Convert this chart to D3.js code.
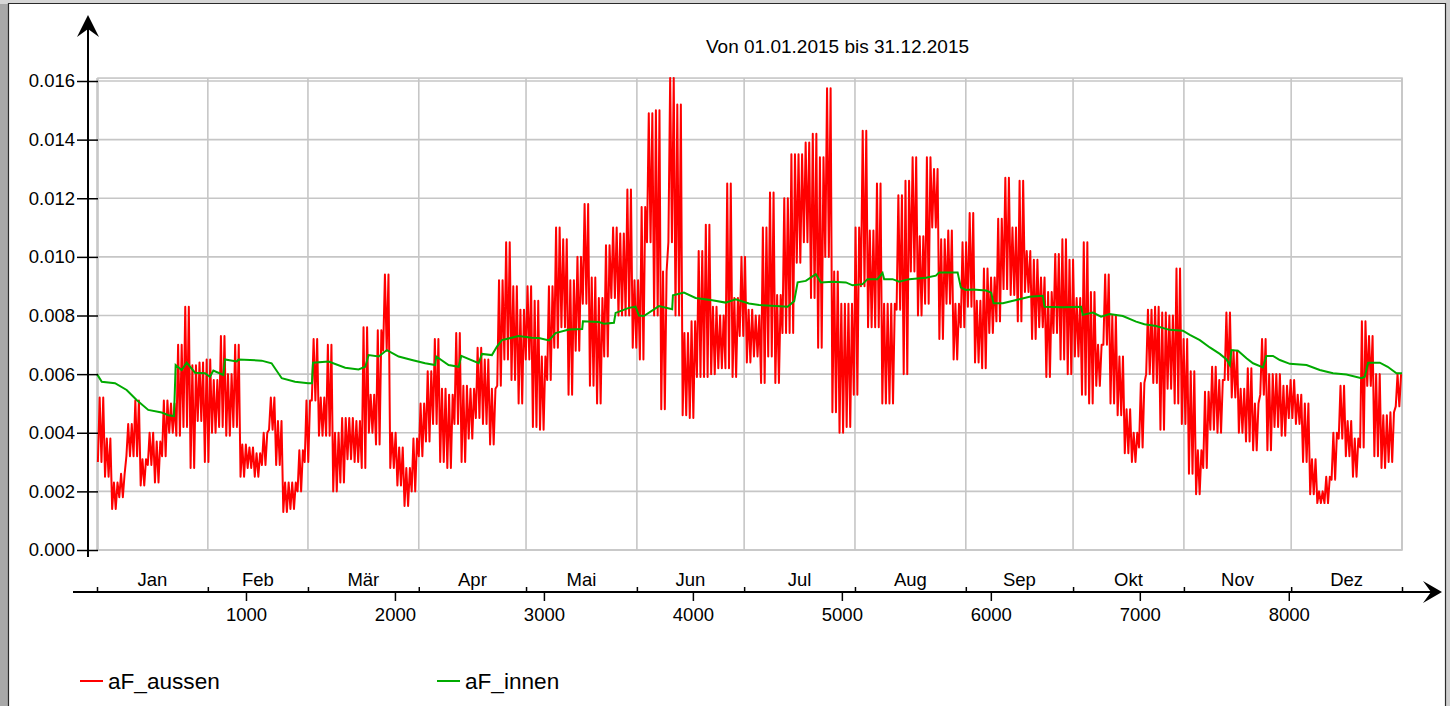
<!DOCTYPE html>
<html>
<head>
<meta charset="utf-8">
<script src="https://cdn.jsdelivr.net/npm/d3@7"></script>
<style>
  body { margin: 0; background: #fff; }
  text { font-family: "Liberation Sans", Arial, sans-serif; fill: #000; }
</style>
</head>
<body>
<svg id="chart" width="1450" height="706"></svg>
<script>
// values in units of 0.001 (kg/kg), hourly year 2015 (8760 h)
// aF_aussen: low / high of every ~48 h block
var aussenLo = [
  3.0, 2.5, 1.4, 1.8, 3.2, 3.2, 2.2, 2.9, 2.3, 3.2,
  4.0, 3.9, 4.2, 2.8, 4.4, 3.0, 4.0, 4.2, 3.9, 4.2,
  2.5, 2.8, 2.5, 2.9, 4.1, 2.9, 1.3, 1.4, 2.0, 3.0,
  5.1, 3.9, 3.9, 2.0, 2.3, 3.1, 3.0, 2.8, 4.0, 3.6,
  6.8, 2.8, 2.2, 1.5, 2.0, 3.2, 3.7, 4.3, 3.0, 2.8,
  4.3, 3.0, 3.8, 4.5, 4.3, 3.6, 5.6, 6.5, 5.8, 5.0,
  6.5, 4.2, 4.1, 5.8, 6.9, 7.6, 5.3, 6.8, 8.4, 5.6,
  5.0, 6.6, 8.6, 8.0, 8.0, 6.9, 6.5, 10.5, 8.0, 4.8,
  10.5, 8.0, 4.6, 4.5, 5.9, 5.9, 6.0, 6.2, 6.2, 5.9,
  7.3, 6.4, 6.6, 5.7, 6.6, 5.7, 7.4, 7.4, 9.8, 10.5,
  8.6, 6.9, 10.0, 4.7, 4.0, 4.2, 5.3, 9.0, 7.6, 7.6,
  5.0, 5.0, 8.2, 6.0, 9.5, 8.0, 8.4, 11.0, 7.2, 8.4,
  6.5, 7.6, 8.3, 6.4, 6.2, 7.4, 7.8, 8.9, 8.7, 7.8,
  8.8, 7.2, 7.6, 5.9, 7.4, 6.5, 6.0, 6.6, 5.3, 5.0,
  5.6, 7.0, 5.0, 4.6, 3.3, 3.0, 3.5, 6.0, 5.7, 4.1,
  5.5, 5.0, 4.3, 2.6, 1.9, 2.8, 4.1, 4.0, 5.8, 5.2,
  4.0, 3.7, 3.4, 5.3, 3.4, 4.2, 3.9, 4.5, 4.3, 3.0,
  1.9, 1.6, 1.6, 2.4, 3.8, 3.2, 2.5, 3.5, 5.6, 3.2,
  2.8, 3.0, 4.9
];
var aussenHi = [
  5.2, 3.8, 2.3, 2.6, 4.3, 5.1, 3.1, 4.0, 3.7, 5.1,
  5.0, 7.0, 8.3, 6.3, 6.4, 6.5, 5.8, 7.3, 6.0, 7.0,
  3.6, 3.5, 3.3, 4.0, 5.2, 4.4, 2.3, 2.3, 3.4, 5.1,
  7.2, 5.2, 7.0, 4.0, 4.5, 4.5, 4.4, 7.6, 5.3, 7.5,
  9.4, 4.0, 3.5, 2.8, 3.8, 5.0, 6.1, 7.2, 5.5, 5.3,
  7.4, 5.6, 5.5, 6.9, 6.5, 5.5, 9.2, 10.5, 9.0, 8.2,
  9.0, 8.5, 6.6, 9.0, 11.0, 10.6, 9.2, 10.0, 11.8, 9.3,
  8.6, 10.4, 11.0, 10.8, 12.3, 9.2, 11.7, 14.9, 15.0, 9.5,
  16.1, 15.2, 7.4, 7.8, 10.2, 11.1, 8.3, 8.0, 12.5, 8.6,
  10.0, 8.2, 8.0, 11.0, 12.2, 8.7, 12.0, 13.5, 13.5, 13.9,
  14.2, 13.4, 15.75, 9.5, 8.4, 8.4, 11.0, 14.3, 10.9, 12.5,
  8.4, 8.4, 12.1, 12.6, 13.4, 10.7, 13.4, 13.0, 10.6, 10.9,
  8.4, 10.5, 11.5, 8.5, 9.6, 9.3, 11.3, 12.7, 11.0, 12.6,
  10.2, 9.9, 9.3, 8.8, 10.1, 10.6, 9.9, 8.6, 10.5, 8.8,
  7.0, 9.4, 8.0, 6.6, 4.8, 4.0, 5.7, 8.2, 8.3, 8.1,
  8.0, 9.6, 7.2, 6.1, 3.4, 5.4, 6.25, 5.8, 8.1, 6.8,
  5.5, 6.2, 5.0, 7.2, 6.0, 6.0, 5.6, 5.8, 5.3, 5.0,
  3.1, 2.0, 2.5, 4.0, 5.6, 4.4, 3.8, 7.8, 7.3, 6.0,
  4.6, 4.7, 6.0
];

// aF_innen: hour / value pairs
var innenHours = [
  0, 32, 121, 199, 266, 344, 434, 479, 517, 528, 568, 602, 658, 725, 758, 781, 848, 859,
  938, 950, 1105, 1172, 1240, 1329, 1418, 1443, 1450, 1555, 1666, 1756, 1801, 1823, 1891,
  1946, 2025, 2114, 2203, 2270, 2277, 2360, 2428, 2445, 2562, 2584, 2651, 2685, 2718, 2830,
  2919, 2966, 3034, 3078, 3168, 3257, 3262, 3369, 3403, 3470, 3481, 3570, 3615, 3638, 3671,
  3772, 3861, 3866, 3940, 4018, 4130, 4219, 4287, 4376, 4445, 4557, 4636, 4680, 4703, 4758,
  4825, 4859, 4938, 5027, 5072, 5139, 5172, 5239, 5273, 5284, 5340, 5385, 5452, 5564, 5631,
  5653, 5777, 5799, 5832, 5879, 5968, 6002, 6018, 6081, 6170, 6260, 6349, 6360, 6483, 6606,
  6617, 6685, 6740, 6797, 6886, 6975, 7031, 7109, 7199, 7289, 7336, 7403, 7470, 7537, 7582,
  7604, 7615, 7659, 7716, 7760, 7827, 7850, 7894, 7940, 8007, 8119, 8208, 8297, 8387, 8488,
  8510, 8532, 8611, 8664, 8723, 8760
];
var innenVals = [
  6.0, 5.74, 5.69, 5.46, 5.12, 4.78, 4.69, 4.6, 4.57, 6.31, 6.14, 6.39, 6.05, 6.03, 5.91, 6.12, 5.97, 6.5,
  6.43, 6.5, 6.46, 6.37, 5.86, 5.74, 5.69, 5.69, 6.39, 6.43, 6.22, 6.16, 6.25, 6.65, 6.6,
  6.82, 6.6, 6.48, 6.37, 6.31, 6.6, 6.31, 6.25, 6.62, 6.37, 6.69, 6.65, 6.94, 7.16, 7.3,
  7.24, 7.23, 7.15, 7.4, 7.52, 7.54, 7.8, 7.78, 7.72, 7.75, 8.09, 8.26, 8.3, 8.0, 7.98,
  8.32, 8.21, 8.69, 8.78, 8.6, 8.52, 8.44, 8.55, 8.41, 8.36, 8.32, 8.3, 8.49, 9.13, 9.18,
  9.41, 9.13, 9.15, 9.13, 9.03, 9.07, 9.24, 9.24, 9.45, 9.24, 9.24, 9.15, 9.24, 9.29, 9.36,
  9.47, 9.47, 8.95, 8.87, 8.89, 8.85, 8.78, 8.42, 8.42, 8.53, 8.64, 8.67, 8.3, 8.28, 8.3,
  8.02, 8.1, 7.96, 8.05, 7.98, 7.79, 7.7, 7.64, 7.51, 7.48, 7.34, 7.16, 6.91, 6.69, 6.5,
  6.31, 6.82, 6.8, 6.54, 6.37, 6.23, 6.62, 6.62, 6.48, 6.35, 6.31, 6.14, 6.03, 5.99, 5.86,
  5.91, 6.39, 6.39, 6.25, 6.03, 6.03
];

var monthNames = ["Jan", "Feb", "Mär", "Apr", "Mai", "Jun", "Jul", "Aug", "Sep", "Okt", "Nov", "Dez"];
var monthDays = [31, 28, 31, 30, 31, 30, 31, 31, 30, 31, 30, 31];
var hourTicks = [1000, 2000, 3000, 4000, 5000, 6000, 7000, 8000];
var yTicks = [0, 0.002, 0.004, 0.006, 0.008, 0.010, 0.012, 0.014, 0.016];

var svg = d3.select("#chart");

// window chrome
svg.append("rect").attr("width", 1450).attr("height", 706).attr("fill", "#a8a8a8");
svg.append("rect").attr("width", 1450).attr("height", 4).attr("fill", "#d6d6d6");
svg.append("rect").attr("x", 1446).attr("width", 4).attr("height", 706).attr("fill", "#cfcfcf");
svg.append("rect").attr("x", 8).attr("y", 4).attr("width", 1437).attr("height", 702).attr("fill", "#fff");
svg.append("path").attr("d", "M8.5,706V3.5H1445.5V706").attr("fill", "none").attr("stroke", "#2a2a2a").attr("stroke-width", 1.2);

var x = d3.scaleLinear().domain([0, 8760]).range([97, 1402]);
var y = d3.scaleLinear().domain([0, 0.016]).range([550, 81]);

var monthEdges = [0];
monthDays.forEach(function(d, i) { monthEdges.push(monthEdges[i] + d * 24); });

var g = svg.append("g");

// grid
g.selectAll(".hgrid")
    .data(yTicks)
    .enter().append("line")
      .attr("x1", x(0)).attr("x2", x(8760))
      .attr("y1", function(d) { return y(d); })
      .attr("y2", function(d) { return y(d); })
      .attr("stroke", "#c6c6c6").attr("stroke-width", 1.6);

g.selectAll(".vgrid")
    .data(monthEdges)
    .enter().append("line")
      .attr("x1", function(d) { return x(d); })
      .attr("x2", function(d) { return x(d); })
      .attr("y1", y(0.0161)).attr("y2", y(0))
      .attr("stroke", "#c6c6c6").attr("stroke-width", 1.6);

g.append("rect")
    .attr("x", x(0) + 1).attr("y", y(0.0161))
    .attr("width", x(8760) - x(0) - 1).attr("height", y(0) - y(0.0161))
    .attr("fill", "none").attr("stroke", "#c6c6c6").attr("stroke-width", 1.6);

// series: each ~48 h block swings between its low and high once per day
var step = 8760 / aussenLo.length;
var aussen = [];
aussenLo.forEach(function(v, i) {
  aussen.push({h: step * (i + 0.125), v: v / 1000});
  aussen.push({h: step * (i + 0.375), v: aussenHi[i] / 1000});
  aussen.push({h: step * (i + 0.625), v: v / 1000});
  aussen.push({h: step * (i + 0.875), v: aussenHi[i] / 1000});
});
var innen = innenHours.map(function(h, i) { return {h: h, v: innenVals[i] / 1000}; });

var line = d3.line()
    .x(function(d) { return x(d.h); })
    .y(function(d) { return y(d.v); });

g.append("path")
    .datum(aussen)
    .attr("fill", "none")
    .attr("stroke", "#ff0000")
    .attr("stroke-width", 2)
    .attr("stroke-linejoin", "round")
    .attr("d", line);

g.append("path")
    .datum(innen)
    .attr("fill", "none")
    .attr("stroke", "#00aa00")
    .attr("stroke-width", 2)
    .attr("d", line);

// y axis
var yAxis = g.append("g")
    .attr("transform", "translate(98,0)")
    .call(d3.axisLeft(y).tickValues(yTicks).tickFormat(d3.format(".3f")).tickSize(21).tickPadding(2));
yAxis.select(".domain").remove();
yAxis.selectAll("line").attr("stroke", "#000").attr("stroke-width", 1.5);
yAxis.selectAll("text").style("font-size", "18.5px").attr("fill", "#000");

g.append("line")
    .attr("x1", 88).attr("x2", 88).attr("y1", 22).attr("y2", 557)
    .attr("stroke", "#000").attr("stroke-width", 2);
g.append("path")
    .attr("d", "M88,15L99,37L88,29L77,37Z")
    .attr("fill", "#000");

// x axis
var axisY = 592;
g.append("line")
    .attr("x1", 73).attr("x2", 1436).attr("y1", axisY).attr("y2", axisY)
    .attr("stroke", "#000").attr("stroke-width", 2);
g.append("path")
    .attr("d", "M1442," + axisY + "L1423," + (axisY - 11) + "L1431," + axisY + "L1423," + (axisY + 11) + "Z")
    .attr("fill", "#000");

var xAxis = g.append("g")
    .attr("transform", "translate(0," + axisY + ")")
    .call(d3.axisBottom(x).tickValues(hourTicks).tickFormat(d3.format("d")).tickSize(9).tickPadding(7));
xAxis.select(".domain").remove();
xAxis.selectAll("line").attr("stroke", "#000").attr("stroke-width", 1.5);
xAxis.selectAll("text").style("font-size", "18.5px").attr("fill", "#000");

var mAxis = g.append("g")
    .attr("transform", "translate(0," + axisY + ")")
    .call(d3.axisTop(x).tickValues(monthEdges).tickFormat("").tickSize(5));
mAxis.select(".domain").remove();
mAxis.selectAll("line").attr("stroke", "#000").attr("stroke-width", 1.5);

g.selectAll(".month")
    .data(monthNames)
    .enter().append("text")
      .attr("x", function(d, i) { return x((monthEdges[i] + monthEdges[i + 1]) / 2); })
      .attr("y", 586)
      .attr("text-anchor", "middle")
      .style("font-size", "18.5px")
      .text(function(d) { return d; });

// title
svg.append("text")
    .attr("x", 706).attr("y", 53)
    .style("font-size", "19px")
    .text("Von 01.01.2015 bis 31.12.2015");

// legend
var legend = svg.selectAll(".legend")
    .data([{name: "aF_aussen", color: "#ff0000", x: 80}, {name: "aF_innen", color: "#00aa00", x: 437}])
    .enter().append("g")
      .attr("transform", function(d) { return "translate(" + d.x + ",681)"; });
legend.append("line")
    .attr("x1", 0).attr("x2", 23)
    .attr("stroke", function(d) { return d.color; })
    .attr("stroke-width", 2);
legend.append("text")
    .attr("x", 28).attr("y", 8)
    .style("font-size", "22.6px")
    .text(function(d) { return d.name; });
</script>
</body>
</html>
